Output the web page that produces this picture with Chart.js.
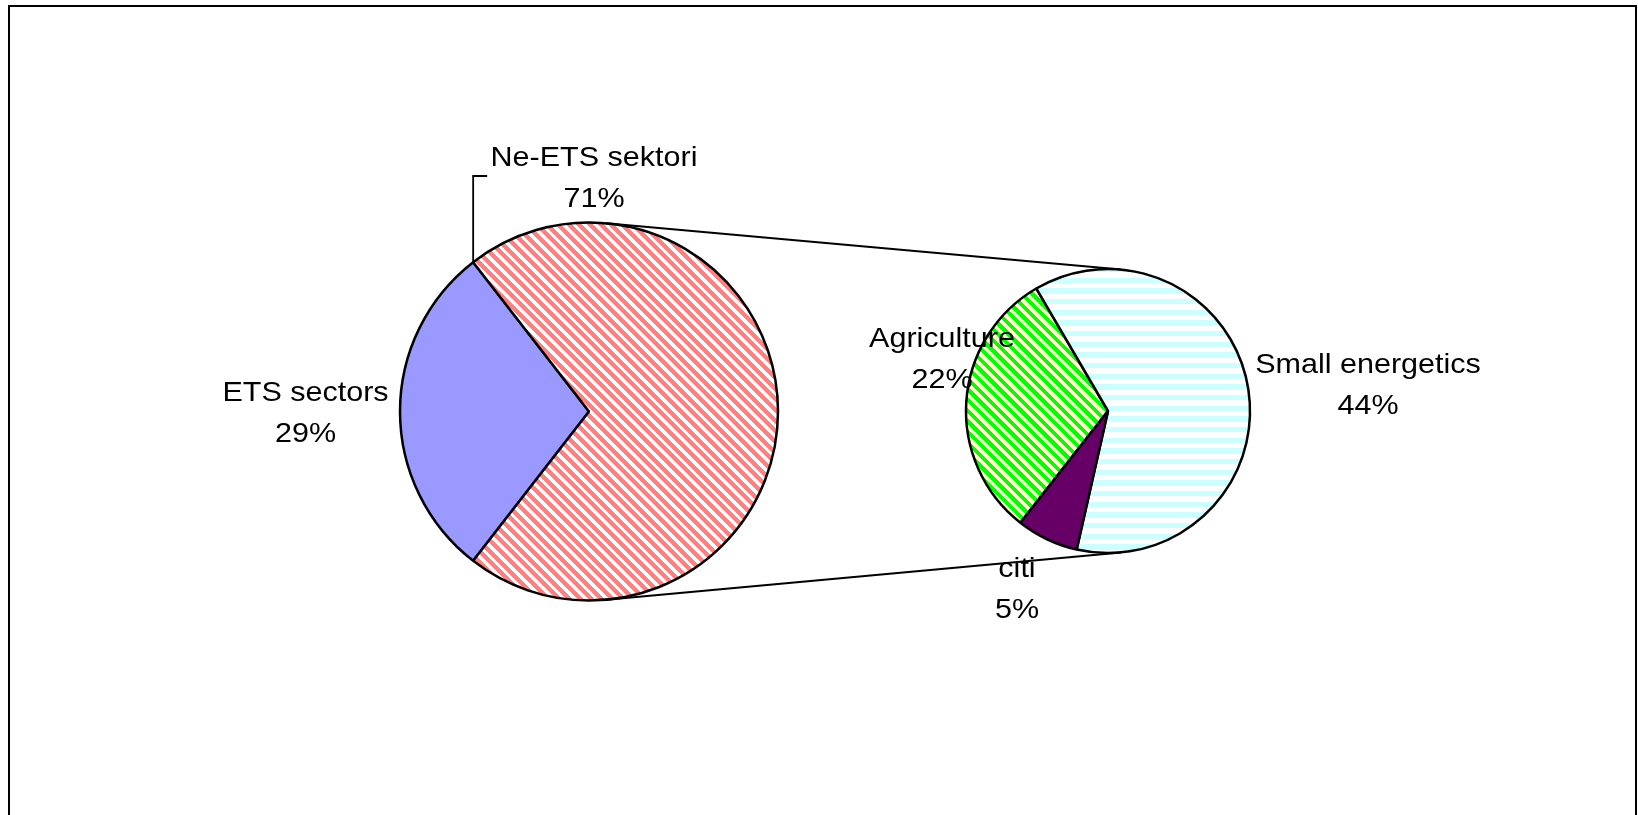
<!DOCTYPE html>
<html>
<head>
<meta charset="utf-8">
<script src="https://cdn.jsdelivr.net/npm/chart.js@4.4.0/dist/chart.umd.min.js"></script>
<style>
  body { margin: 0; background: #fff; }
  #wrap { position: relative; width: 1638px; height: 815px; }
  #wrap canvas { position: absolute; left: 0; top: 0; }
</style>
</head>
<body>
<div id="wrap">
  <canvas id="mainPie" width="1638" height="815"></canvas>
  <canvas id="subPie" width="1638" height="815"></canvas>
</div>
<script>
var mainLabels = ['ETS sectors', 'Ne-ETS sektori'];
var mainValues = [29, 71];
var subLabels = ['Agriculture', 'Small energetics', 'citi'];
var subValues = [22, 44, 5];

// where each pie sits and how big it is
var mainPos = { x: 589, y: 411.5, r: 189, rotation: 217.8 };
var subPos = { x: 1108, y: 411, r: 142, rotation: 218.1 };

// label anchors relative to the pie centre (x = text centre, y = first baseline)
var mainLabelPos = [{ dx: -283.5, dy: -11 }, { dx: 5, dy: -245.5 }];
var subLabelPos = [{ dx: -166, dy: -64 }, { dx: 260, dy: -38 }, { dx: -91, dy: 166 }];

var W = 1638, H = 815;

function padFor(pos) {
    var half = pos.r + 20;
    return { left: pos.x - half, right: W - pos.x - half, top: pos.y - half, bottom: H - pos.y - half };
}

// 32px tile holding three stripe periods
function stripes(fg, bg, test) {
    var c = document.createElement('canvas');
    c.width = c.height = 32;
    var g = c.getContext('2d');
    g.fillStyle = bg;
    g.fillRect(0, 0, 32, 32);
    g.fillStyle = fg;
    var p = 32 / 3;
    for (var y = 0; y < 32; y++) {
        for (var x = 0; x < 32; x++) {
            if (test(x, y, p)) g.fillRect(x, y, 1, 1);
        }
    }
    return g.createPattern(c, 'repeat');
}
function downDiag(share) {
    return function (x, y, p) { return ((x - y + 64) % p) < p * share; };
}
var horiz = function (x, y, p) { return (y % p) < p / 2; };

var redHatch = stripes('#ff8080', '#ffffff', downDiag(0.56));
var greenHatch = stripes('#00ff00', '#ffffcc', downDiag(0.5));
var cyanLines = stripes('#ccffff', '#ffffff', horiz);

function drawLabel(ctx, lines, x, y) {
    ctx.save();
    ctx.fillStyle = '#000';
    ctx.font = '28px "Liberation Sans", Arial, sans-serif';
    ctx.textAlign = 'center';
    ctx.textBaseline = 'alphabetic';
    lines.forEach(function (t, i) {
        ctx.save();
        ctx.translate(x, y + i * 41);
        ctx.scale(1.09, 1);
        ctx.fillText(t, 0, 0);
        ctx.restore();
    });
    ctx.restore();
}

var frame = {
    id: 'frame',
    beforeDraw: function (chart) {
        var ctx = chart.ctx;
        ctx.save();
        ctx.strokeStyle = '#000';
        ctx.lineWidth = 2;
        ctx.strokeRect(9, 6, 1627, 840);
        ctx.restore();
    }
};

var mainChart = new Chart(document.getElementById('mainPie'), {
    type: 'pie',
    data: {
        labels: mainLabels,
        datasets: [{
            data: mainValues,
            backgroundColor: ['#9999ff', redHatch],
            borderColor: '#000',
            borderWidth: 2.5,
            radius: mainPos.r
        }]
    },
    options: {
        responsive: false,
        animation: false,
        events: [],
        rotation: mainPos.rotation,
        layout: { padding: padFor(mainPos) },
        plugins: { legend: { display: false }, tooltip: { enabled: false } }
    },
    plugins: [frame]
});

// connectors, leader line and all data labels go on the top canvas
var overlay = {
    id: 'overlay',
    afterDraw: function (chart) {
        var ctx = chart.ctx;
        var mArcs = mainChart.getDatasetMeta(0).data;
        var sArcs = chart.getDatasetMeta(0).data;
        var a = mArcs[0], b = sArcs[0];
        var R = a.outerRadius, r = b.outerRadius;
        var dx = b.x - a.x, dy = b.y - a.y, d = Math.hypot(dx, dy);
        var ux = dx / d, uy = dy / d, nx = -uy, ny = ux;
        var c = (R - r) / d, s = Math.sqrt(1 - c * c);

        ctx.save();
        ctx.strokeStyle = '#000';
        ctx.lineWidth = 2;
        [1, -1].forEach(function (sg) {
            var vx = ux * c + nx * s * sg, vy = uy * c + ny * s * sg;
            ctx.beginPath();
            ctx.moveTo(a.x + R * vx, a.y + R * vy);
            ctx.lineTo(b.x + r * vx, b.y + r * vy);
            ctx.stroke();
        });

        // leader from the Ne-ETS slice edge up to its label
        var ne = mArcs[1];
        var px = ne.x + Math.cos(ne.startAngle) * ne.outerRadius;
        var py = ne.y + Math.sin(ne.startAngle) * ne.outerRadius;
        var ty = mainPos.y + mainLabelPos[1].dy + 10;
        ctx.lineWidth = 1.8;
        ctx.beginPath();
        ctx.moveTo(px, py);
        ctx.lineTo(px, ty);
        ctx.lineTo(px + 14, ty);
        ctx.stroke();
        ctx.restore();

        mainLabels.forEach(function (name, i) {
            drawLabel(ctx, [name, mainValues[i] + '%'],
                mainPos.x + mainLabelPos[i].dx, mainPos.y + mainLabelPos[i].dy);
        });
        subLabels.forEach(function (name, i) {
            drawLabel(ctx, [name, subValues[i] + '%'],
                subPos.x + subLabelPos[i].dx, subPos.y + subLabelPos[i].dy);
        });
    }
};

var subChart = new Chart(document.getElementById('subPie'), {
    type: 'pie',
    data: {
        labels: subLabels,
        datasets: [{
            data: subValues,
            backgroundColor: [greenHatch, cyanLines, '#660066'],
            borderColor: '#000',
            borderWidth: 2.5,
            radius: subPos.r
        }]
    },
    options: {
        responsive: false,
        animation: false,
        events: [],
        rotation: subPos.rotation,
        layout: { padding: padFor(subPos) },
        plugins: { legend: { display: false }, tooltip: { enabled: false } }
    },
    plugins: [overlay]
});
</script>
</body>
</html>
